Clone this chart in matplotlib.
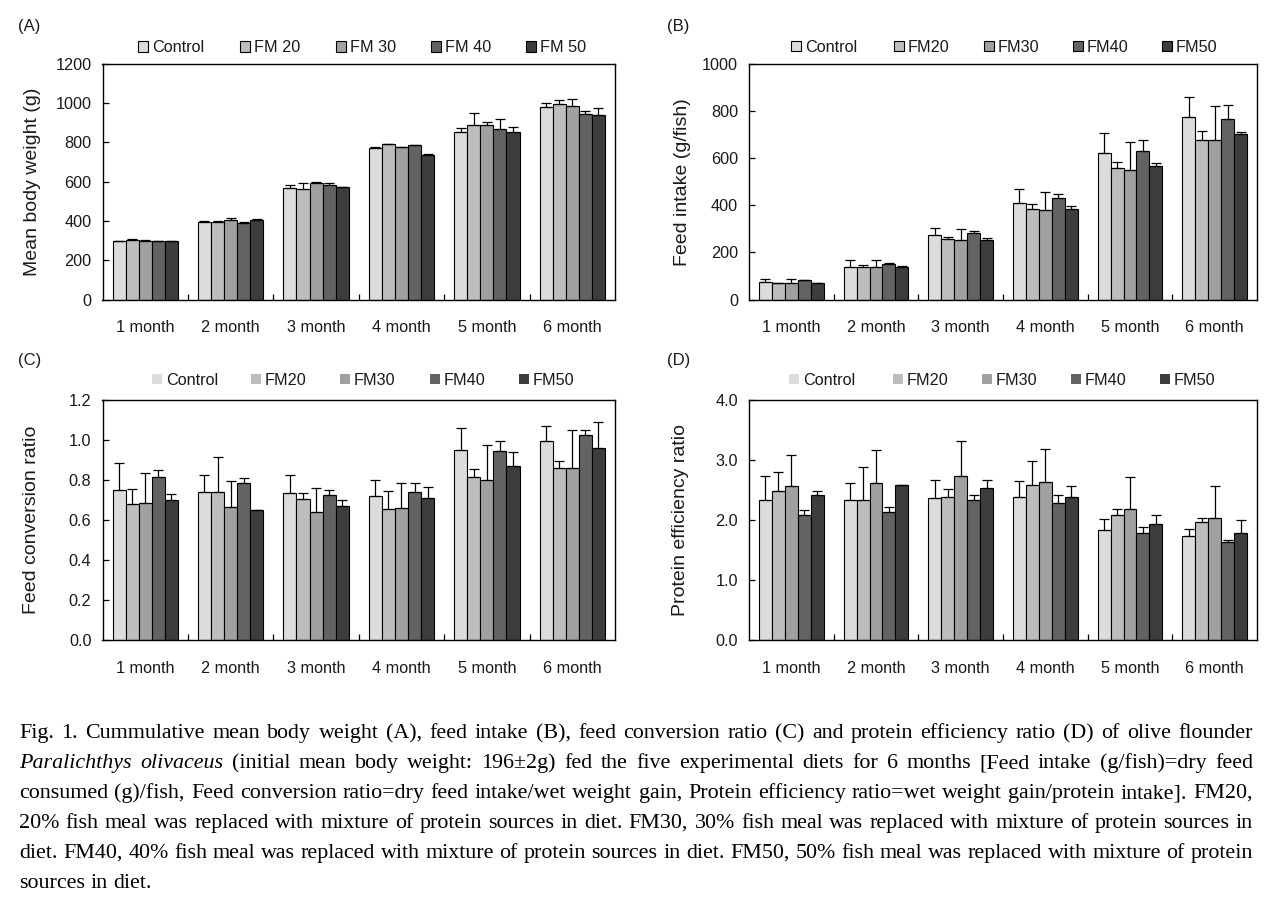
import numpy as np
import matplotlib
matplotlib.use("Agg")
import matplotlib.pyplot as plt
from matplotlib.patches import Rectangle
from matplotlib.ticker import FormatStrFormatter, FixedLocator

plt.rcParams['font.family'] = ['Liberation Sans', 'DejaVu Sans']

# ---------------- data ----------------
months = ["1 month", "2 month", "3 month", "4 month", "5 month", "6 month"]
series_A = ["Control", "FM 20", "FM 30", "FM 40", "FM 50"]
series_BCD = ["Control", "FM20", "FM30", "FM40", "FM50"]

# rows = months, columns = Control, FM20, FM30, FM40, FM50
weight_mean = [[296, 302, 298, 295, 295],
               [393, 394, 404, 390, 404],
               [569, 564, 591, 581, 571],
               [769, 790, 775, 784, 736],
               [851, 886, 886, 866, 851],
               [978, 992, 983, 942, 937]]
weight_err = [[4, 5, 4, 0, 0],
              [4, 4, 9, 3, 4],
              [11, 29, 9, 10, 3],
              [6, 3, 0, 0, 3],
              [20, 60, 19, 51, 24],
              [19, 22, 39, 16, 39]]

intake_mean = [[74, 70, 68, 81, 68],
               [140, 136, 136, 149, 139],
               [272, 257, 252, 282, 252],
               [410, 383, 380, 430, 384],
               [621, 557, 549, 630, 567],
               [774, 677, 677, 766, 704]]
intake_err = [[11, 2, 17, 0, 0],
              [26, 12, 30, 7, 2],
              [33, 10, 46, 9, 8],
              [58, 21, 75, 17, 12],
              [85, 26, 119, 47, 12],
              [86, 38, 144, 60, 7]]

fcr_mean = [[0.748, 0.678, 0.683, 0.813, 0.698],
            [0.738, 0.738, 0.663, 0.783, 0.648],
            [0.733, 0.703, 0.638, 0.723, 0.668],
            [0.718, 0.653, 0.658, 0.738, 0.708],
            [0.948, 0.813, 0.798, 0.943, 0.868],
            [0.993, 0.858, 0.858, 1.023, 0.958]]
fcr_err = [[0.137, 0.077, 0.150, 0.035, 0.030],
           [0.085, 0.175, 0.130, 0.025, 0.004],
           [0.090, 0.034, 0.120, 0.025, 0.034],
           [0.080, 0.090, 0.125, 0.045, 0.055],
           [0.110, 0.040, 0.175, 0.050, 0.070],
           [0.075, 0.035, 0.190, 0.025, 0.130]]

per_mean = [[2.34, 2.49, 2.57, 2.08, 2.41],
            [2.34, 2.34, 2.61, 2.14, 2.58],
            [2.36, 2.39, 2.74, 2.33, 2.53],
            [2.39, 2.59, 2.64, 2.29, 2.38],
            [1.83, 2.08, 2.19, 1.79, 1.94],
            [1.73, 1.96, 2.04, 1.64, 1.78]]
per_err = [[0.40, 0.31, 0.51, 0.08, 0.08],
           [0.28, 0.55, 0.55, 0.07, 0.01],
           [0.30, 0.12, 0.57, 0.08, 0.13],
           [0.26, 0.40, 0.55, 0.13, 0.18],
           [0.19, 0.10, 0.53, 0.10, 0.15],
           [0.12, 0.08, 0.52, 0.03, 0.22]]

colors = ["#DCDCDE", "#BDBDC0", "#A0A0A3", "#636365", "#3D3D3D"]

caption_lines = [
    "Fig. 1. Cummulative mean body weight (A), feed intake (B), feed conversion ratio (C) and protein efficiency ratio (D) of olive flounder",
    "Paralichthys olivaceus (initial mean body weight: 196±2g) fed the five experimental diets for 6 months [Feed intake (g/fish)=dry feed",
    "consumed (g)/fish, Feed conversion ratio=dry feed intake/wet weight gain, Protein efficiency ratio=wet weight gain/protein intake]. FM20,",
    "20% fish meal was replaced with mixture of protein sources in diet. FM30, 30% fish meal was replaced with mixture of protein sources in",
    "diet. FM40, 40% fish meal was replaced with mixture of protein sources in diet. FM50, 50% fish meal was replaced with mixture of protein",
    "sources in diet.",
]
italic_words = ["Paralichthys", "olivaceus"]

# ---------------- figure ----------------
W, H = 1271, 901
fig = plt.figure(figsize=(W / 100, H / 100), dpi=100)
fig.patch.set_facecolor("white")

TXT = "#1a1a1a"


def fx(x):
    return x / W


def fy(y):
    return 1 - y / H


def make_axes(left, right, top, bottom):
    return fig.add_axes([fx(left), fy(bottom), (right - left) / W, (bottom - top) / H])


panels = [
    dict(box=(102.5, 615, 63.5, 299.5), mean=weight_mean, err=weight_err, ylim=1200,
         yticks=np.arange(0, 1201, 200), fmt="%d", ylabel="Mean body weight (g)",
         names=series_A, legx=[138, 240, 336, 431, 526], legy=46.5, legedge=True,
         label="(A)", labxy=(18, 26), ylabx=-0.12),
    dict(box=(749, 1257, 64, 299.5), mean=intake_mean, err=intake_err, ylim=1000,
         yticks=np.arange(0, 1001, 200), fmt="%d", ylabel="Feed intake (g/fish)",
         names=series_BCD, legx=[791, 894, 984, 1073, 1162], legy=46, legedge=True,
         label="(B)", labxy=(667, 26), ylabx=-0.114),
    dict(box=(102.5, 615, 400, 640), mean=fcr_mean, err=fcr_err, ylim=1.2,
         yticks=np.arange(0, 1.21, 0.2), fmt="%.1f", ylabel="Feed conversion ratio",
         names=series_BCD, legx=[152, 251, 340, 430, 519], legy=379, legedge=False,
         label="(C)", labxy=(18, 361), ylabx=-0.122),
    dict(box=(749, 1257, 400, 640), mean=per_mean, err=per_err, ylim=4.0,
         yticks=np.arange(0, 4.01, 1.0), fmt="%.1f", ylabel="Protein efficiency ratio",
         names=series_BCD, legx=[789, 893, 982, 1071, 1160], legy=379, legedge=False,
         label="(D)", labxy=(667, 361), ylabx=-0.118),
]

x = np.arange(len(months))
bw = 0.153

for p in panels:
    ax = make_axes(*p["box"])
    mean = np.array(p["mean"]).T
    err = np.array(p["err"]).T
    handles = []
    for i in range(5):
        b = ax.bar(x + (i - 2) * bw, mean[i], bw, color=colors[i], edgecolor="black",
                   linewidth=0.8, yerr=[np.zeros(len(months)), err[i]], capsize=3.3,
                   error_kw=dict(elinewidth=0.9, capthick=0.9, ecolor="black"), zorder=2)
        handles.append(b)
    ax.set_xlim(-0.5, len(months) - 0.5)
    ax.set_ylim(0, p["ylim"])
    ax.set_yticks(p["yticks"])
    ax.yaxis.set_major_formatter(FormatStrFormatter(p["fmt"]))
    ax.set_xticks(x)
    ax.set_xticklabels(months)
    ax.xaxis.set_minor_locator(FixedLocator(np.arange(0.5, len(months) - 0.5, 1.0)))
    ax.tick_params(axis="x", which="major", length=0, pad=15, labelsize=11.7, labelcolor=TXT)
    ax.tick_params(axis="x", which="minor", direction="in", length=4.5, width=0.9, color="black")
    ax.tick_params(axis="y", direction="in", length=4.5, width=0.9, pad=8, labelsize=11.7,
                   labelcolor=TXT)
    for s in ax.spines.values():
        s.set_linewidth(1.0)
        s.set_color("black")
    ax.set_ylabel(p["ylabel"], fontsize=14, color=TXT)
    ax.yaxis.set_label_coords(p["ylabx"], 0.5)

    # legend (Excel-style, evenly placed entries)
    for i, (name, lx) in enumerate(zip(p["names"], p["legx"])):
        size = 10
        fc = handles[i].patches[0].get_facecolor()
        rect = Rectangle((fx(lx), fy(p["legy"] + size / 2)), size / W, size / H,
                         transform=fig.transFigure, facecolor=fc,
                         edgecolor="black" if p["legedge"] else "none",
                         linewidth=0.8 if p["legedge"] else 0)
        fig.add_artist(rect)
        fig.text(fx(lx + 14), fy(p["legy"]), name, fontsize=11.7, color=TXT,
                 ha="left", va="center_baseline")

    fig.text(fx(p["labxy"][0]), fy(p["labxy"][1]), p["label"], fontsize=12, color=TXT,
             ha="left", va="center")

# ---------------- caption (justified) ----------------
fig.canvas.draw()
renderer = fig.canvas.get_renderer()
cap_left, cap_right = 19, 1253
baseline0, line_gap = 738, 30
cap_size = 15.8
for li, line in enumerate(caption_lines):
    words = line.split(" ")
    texts = []
    for w in words:
        style = "italic" if (li == 1 and w in italic_words) else "normal"
        t = fig.text(0, 0, w, fontfamily=["Liberation Serif", "DejaVu Serif"],
                     fontsize=cap_size, fontstyle=style, color="black",
                     ha="left", va="baseline")
        texts.append(t)
    widths = [t.get_window_extent(renderer).width for t in texts]
    space = cap_size * 100 / 72 * 0.25
    justify = li < len(caption_lines) - 1
    if justify and len(texts) > 1:
        gap = (cap_right - cap_left - sum(widths)) / (len(texts) - 1)
    else:
        gap = space
    xpos = cap_left
    base = baseline0 + li * line_gap
    for t, w in zip(texts, widths):
        t.set_position((fx(xpos), fy(base)))
        xpos += w + gap

fig.savefig("out.png", dpi=100, facecolor="white")
